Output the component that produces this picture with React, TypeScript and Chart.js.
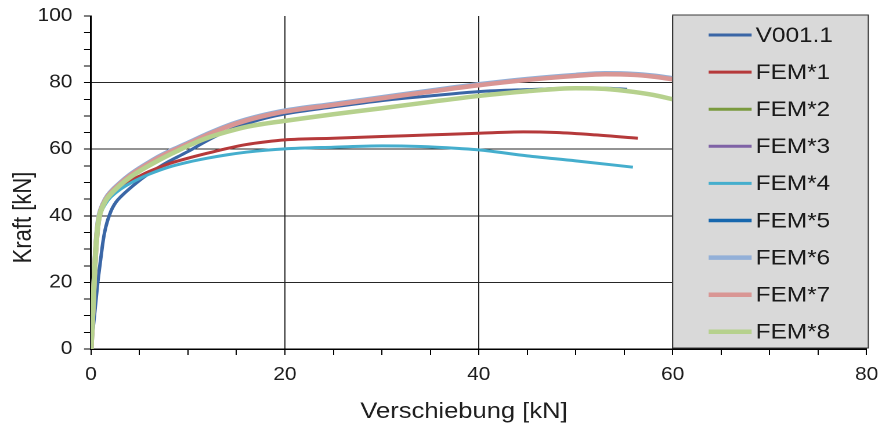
import { useEffect, useRef } from 'react';
import { Chart, registerables } from 'chart.js';

Chart.register(...registerables);

// ---- data (Verschiebung x, Kraft y) ----
const SERIES_LABELS = ['V001.1', 'FEM*1', 'FEM*2', 'FEM*3', 'FEM*4', 'FEM*5', 'FEM*6', 'FEM*7', 'FEM*8'];
const X_TITLE = 'Verschiebung [kN]';
const Y_TITLE = 'Kraft [kN]';

const V001_X = [0, 0.35, 0.7, 1.0, 1.25, 1.45, 1.65, 1.9, 2.2, 2.6, 3.2, 3.8, 5, 6, 7, 8, 9, 10, 12, 14, 16, 18, 20, 25, 30, 35, 40, 45, 50, 53, 55.3];
const V001_Y = [0, 10, 20, 27, 32.5, 35.7, 38, 40.2, 42.3, 44.2, 46.1, 47.7, 50.6, 52.7, 54.6, 56.3, 57.8, 59.3, 62.6, 65.4, 67.6, 69.3, 70.6, 72.7, 74.6, 76, 77.3, 77.9, 78.3, 78.3, 78.0];

const FEM_X = [0, 0.2, 0.4, 0.6, 0.8, 1, 1.5, 2, 3, 4, 5, 6, 7, 8, 9, 10, 12, 14, 16, 18, 20, 25, 30, 35, 40, 45, 50, 53, 56, 58, 60];
const FEM2_Y = [0, 12, 25, 34, 39, 41.2, 44.4, 46.3, 49.1, 51.4, 53.3, 55.0, 56.6, 58.1, 59.5, 60.9, 63.3, 65.1, 66.6, 67.6, 68.4, 70.4, 72.2, 74.1, 75.9, 77.3, 78.2, 78.0, 77.1, 76.2, 74.9];
const FEM3_Y = [0, 12, 25, 34, 39, 41.4, 44.7, 46.7, 49.5, 51.9, 53.9, 55.7, 57.4, 58.9, 60.2, 61.5, 64.2, 66.6, 68.5, 70.0, 71.2, 73.2, 75.2, 77.2, 79.1, 80.7, 81.9, 82.4, 82.2, 81.7, 80.9];
const FEM5_Y = [0, 12, 25, 34, 39, 41.5, 44.8, 46.8, 49.6, 52, 54, 55.8, 57.5, 59, 60.3, 61.6, 64.3, 66.7, 68.6, 70.1, 71.3, 73.3, 75.3, 77.3, 79.2, 80.8, 82.0, 82.5, 82.3, 81.8, 81.0];
const FEM6_Y = [0, 12.5, 25.5, 34.5, 39.5, 41.8, 45.1, 47.1, 49.9, 52.3, 54.3, 56.1, 57.8, 59.3, 60.6, 61.9, 64.6, 67.0, 68.9, 70.4, 71.6, 73.6, 75.6, 77.6, 79.5, 81.1, 82.3, 82.8, 82.6, 82.1, 81.3];
const FEM7_Y = [0, 12, 25, 34, 39, 41.5, 44.8, 46.8, 49.6, 52, 54, 55.8, 57.5, 59, 60.3, 61.6, 64.3, 66.7, 68.6, 70.1, 71.3, 73.3, 75.3, 77.3, 79.2, 80.8, 82.0, 82.5, 82.3, 81.8, 81.0];
const FEM8_Y = [0, 12, 25, 34, 39, 41.3, 44.5, 46.4, 49.2, 51.5, 53.4, 55.1, 56.7, 58.2, 59.6, 61, 63.4, 65.2, 66.7, 67.7, 68.5, 70.5, 72.3, 74.2, 76, 77.4, 78.3, 78.1, 77.2, 76.3, 75.0];

const FEM1_X = [0, 0.2, 0.4, 0.6, 0.8, 1, 1.5, 2, 3, 4, 5, 6, 8, 10, 12, 13, 14, 16, 18, 20, 25, 30, 35, 40, 44.6, 48, 52, 56.4];
const FEM1_Y = [0, 12, 25, 34, 39, 41.2, 44.2, 46, 48.6, 50.4, 51.9, 53.3, 55.6, 57.3, 58.8, 59.5, 60.2, 61.4, 62.2, 62.8, 63.3, 63.8, 64.3, 64.8, 65.2, 65.0, 64.3, 63.3];

const FEM4_X = [0, 0.2, 0.4, 0.6, 0.8, 1, 1.5, 2, 3, 4, 5, 6, 8, 10, 12, 14, 16, 18, 20, 25, 30, 34, 38, 40, 45, 50, 55.9];
const FEM4_Y = [0, 12, 25, 34, 38.5, 40.8, 43.6, 45.5, 47.9, 49.7, 51.2, 52.5, 54.6, 56.1, 57.3, 58.3, 59.1, 59.7, 60.1, 60.6, 61, 60.8, 60.2, 59.8, 58.0, 56.5, 54.6];

const X_TICK_MAJOR = [0, 20, 40, 60, 80];
const Y_TICK_MAJOR = [0, 20, 40, 60, 80, 100];

const COLORS = ['#3A66A6', '#B5393A', '#7A9A3E', '#7F62A6', '#45AECD', '#1767AE', '#93B0D8', '#D99694', '#B6D18D'];
const WIDTHS = [3, 3, 3, 3, 3, 3.5, 4.5, 4.5, 4.5];

const FONT = '"Liberation Sans", Arial, Helvetica, sans-serif';
const CW = 760;
const CH = 429;
const STRETCH = 882 / CW;

const zip = (xs: number[], ys: number[]) => xs.map((x, i) => ({ x, y: ys[i] }));
const SERIES_DATA = [
  zip(V001_X, V001_Y),
  zip(FEM1_X, FEM1_Y),
  zip(FEM_X, FEM2_Y),
  zip(FEM_X, FEM3_Y),
  zip(FEM4_X, FEM4_Y),
  zip(FEM_X, FEM5_Y),
  zip(FEM_X, FEM6_Y),
  zip(FEM_X, FEM7_Y),
  zip(FEM_X, FEM8_Y),
];

const legendBox = {
  id: 'legendBox',
  afterDraw(chart: any) {
    const { ctx, chartArea, scales } = chart;
    const left = scales.x.getPixelForValue(60);
    const right = chartArea.right + 1.5;
    const top = chartArea.top - 1;
    const bottom = chartArea.bottom - 1;
    ctx.save();
    ctx.fillStyle = '#d9d9d9';
    ctx.fillRect(left, top, right - left, bottom - top);
    ctx.strokeStyle = '#3a3a3a';
    ctx.lineWidth = 1;
    ctx.strokeRect(left, top, right - left, bottom - top);
    ctx.font = `21px ${FONT}`;
    ctx.textBaseline = 'middle';
    ctx.textAlign = 'left';
    chart.data.datasets.forEach((ds: any, i: number) => {
      const y = chartArea.top + 19 + i * 37.1;
      ctx.strokeStyle = ds.borderColor;
      ctx.lineWidth = ds.borderWidth;
      ctx.beginPath();
      ctx.moveTo(left + 31, y);
      ctx.lineTo(left + 68, y);
      ctx.stroke();
      ctx.fillStyle = '#1a1a1a';
      ctx.fillText(ds.label, left + 71.5, y + 1);
    });

    // axis titles
    ctx.fillStyle = '#1e1e1e';
    ctx.font = `22px ${FONT}`;
    ctx.textAlign = 'center';
    ctx.textBaseline = 'middle';
    ctx.fillText(X_TITLE, 464 / STRETCH, 412);
    ctx.translate(24 / STRETCH, 217.5);
    ctx.rotate(-Math.PI / 2);
    ctx.fillText(Y_TITLE, 0, 0);
    ctx.restore();
  },
};

export default function App() {
  const ref = useRef<HTMLCanvasElement>(null);
  useEffect(() => {
    if (!ref.current) return;
    const gridColor = (max: number) => (c: any) => {
      const v = c.tick && c.tick.value;
      return v % 20 === 0 && v > 0 && v < max ? '#262626' : 'rgba(0,0,0,0)';
    };
    const chart = new Chart(ref.current, {
      type: 'line',
      data: {
        datasets: SERIES_LABELS.map((label, i) => ({
          label,
          data: SERIES_DATA[i],
          borderColor: COLORS[i],
          backgroundColor: COLORS[i],
          borderWidth: WIDTHS[i],
          pointRadius: 0,
          fill: false,
          cubicInterpolationMode: 'monotone' as const,
          order: SERIES_LABELS.length - i,
        })),
      },
      options: {
        animation: false,
        responsive: false,
        devicePixelRatio: 2,
        layout: { padding: { left: 0, right: 13.3, top: 16, bottom: 0 } },
        plugins: { legend: { display: false }, tooltip: { enabled: false }, title: { display: false } },
        scales: {
          x: {
            type: 'linear',
            min: 0,
            max: 80,
            ticks: {
              stepSize: 5,
              autoSkip: false,
              maxRotation: 0,
              padding: 9,
              color: '#1e1e1e',
              font: { family: FONT, size: 18 },
              callback: (v: any) => (X_TICK_MAJOR.includes(Number(v)) ? String(v) : ''),
            },
            grid: { color: gridColor(80), tickColor: '#000', tickLength: 6, lineWidth: 1 },
            border: { color: '#000', width: 1.5 },
            title: { display: false },
            afterFit: (s: any) => {
              s.height = CH - 349;
              s.paddingLeft = 0;
              s.paddingRight = 0;
            },
          },
          y: {
            type: 'linear',
            min: 0,
            max: 100,
            ticks: {
              stepSize: 5,
              autoSkip: false,
              padding: 10,
              color: '#1e1e1e',
              font: { family: FONT, size: 18 },
              callback: (v: any) => (Y_TICK_MAJOR.includes(Number(v)) ? String(v) : ''),
            },
            grid: { color: gridColor(100), tickColor: '#000', tickLength: 6, lineWidth: 1 },
            border: { color: '#000', width: 1.5 },
            title: { display: false },
            afterFit: (s: any) => {
              s.width = 91 / STRETCH;
              s.paddingTop = 0;
              s.paddingBottom = 0;
            },
          },
        },
      },
      plugins: [legendBox],
    });
    return () => chart.destroy();
  }, []);

  return (
    <div
      style={{
        position: 'absolute',
        left: 0,
        top: 0,
        width: CW,
        height: CH,
        transform: `scaleX(${STRETCH})`,
        transformOrigin: '0 0',
      }}
    >
      <canvas ref={ref} width={CW} height={CH} style={{ display: 'block' }} />
    </div>
  );
}
